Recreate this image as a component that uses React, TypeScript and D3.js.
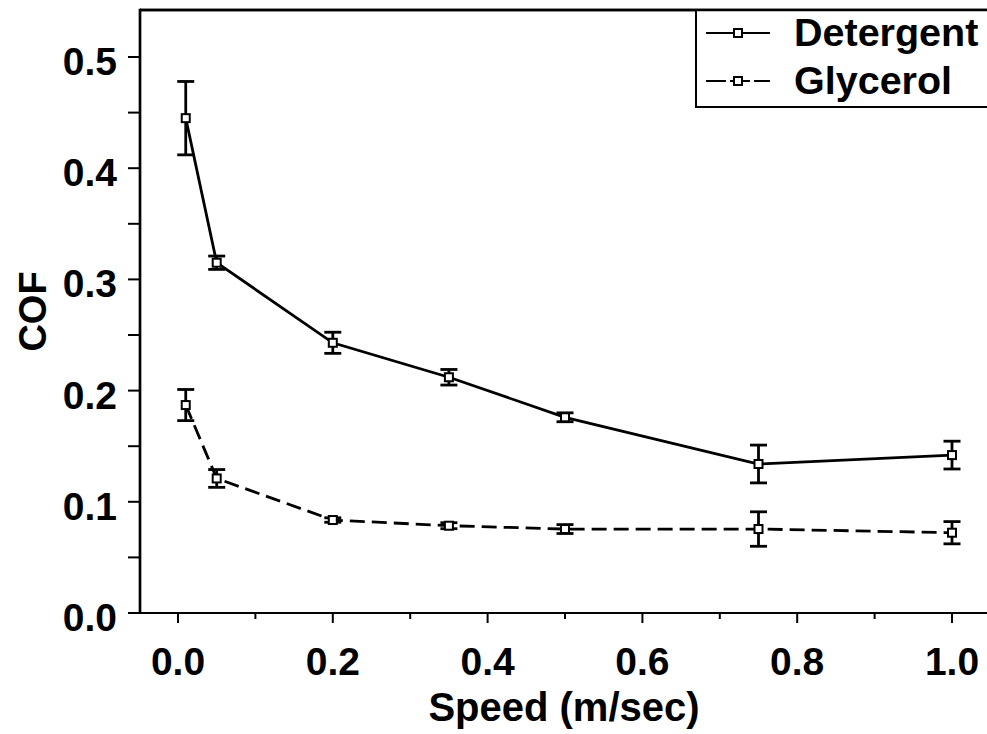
import React from "react";
import * as d3 from "d3";

const speeds = [0.01, 0.05, 0.2, 0.35, 0.5, 0.75, 1.0];
const detergent = [0.445, 0.315, 0.243, 0.212, 0.176, 0.134, 0.142];
const detergentErr = [0.033, 0.006, 0.0095, 0.007, 0.004, 0.017, 0.0125];
const glycerol = [0.187, 0.121, 0.0836, 0.0785, 0.0755, 0.0755, 0.0722];
const glycerolErr = [0.014, 0.008, 0.002, 0.0027, 0.004, 0.0155, 0.01];
const xMajorTicks = [0, 0.2, 0.4, 0.6, 0.8, 1.0];
const xMinorTicks = [0.1, 0.3, 0.5, 0.7, 0.9];
const yTicks = [0, 0.1, 0.2, 0.3, 0.4, 0.5];
const yMinorTicks = [0.05, 0.15, 0.25, 0.35, 0.45];
const seriesNames = ["Detergent", "Glycerol"];

const W = 987;
const H = 734;
const left = 140;
const top = 10;
const bottom = 613;
const FONT = "'Liberation Sans', Arial, sans-serif";

export default function App() {
  const x = d3.scaleLinear().domain([-0.05, 1.05]).range([139.3, 990.7]);
  const y = d3.scaleLinear().domain([0, 0.5]).range([bottom, 57]);

  const line = d3
    .line<number>()
    .x((_, i) => x(speeds[i]))
    .y((d) => y(d));

  const series = [
    { name: seriesNames[0], vals: detergent, err: detergentErr, dash: undefined as string | undefined, ldash: undefined as string | undefined },
    { name: seriesNames[1], vals: glycerol, err: glycerolErr, dash: "15,7", ldash: "20,4" },
  ];

  const ms = 8;
  const cap = 8.5;
  const sw = 2.8;

  return (
    <svg
      width={W}
      height={H}
      style={{ position: "absolute", left: 0, top: 0, background: "#fff" }}
      fontFamily={FONT}
    >
      <rect x={0} y={0} width={W} height={H} fill="#fff" />
      {/* frame */}
      <line x1={left} x2={W} y1={top} y2={top} stroke="#000" strokeWidth={2.7} />
      <line x1={left} x2={left} y1={top - 1.3} y2={bottom} stroke="#000" strokeWidth={2.7} />
      <line x1={left} x2={W} y1={bottom} y2={bottom} stroke="#000" strokeWidth={2} />

      {/* y ticks */}
      {yTicks.concat(yMinorTicks).map((t) => (
        <line key={"yt" + t} x1={128} x2={left} y1={y(t)} y2={y(t)} stroke="#000" strokeWidth={2} />
      ))}
      {yTicks.map((t) => (
        <text
          key={"yl" + t}
          x={117}
          y={y(t) + 18}
          textAnchor="end"
          fontSize={39}
          fontWeight="bold"
        >
          {t.toFixed(1)}
        </text>
      ))}

      {/* x ticks */}
      {xMajorTicks.map((t) => (
        <line key={"xt" + t} x1={x(t)} x2={x(t)} y1={bottom} y2={bottom + 10} stroke="#000" strokeWidth={2} />
      ))}
      {xMinorTicks.map((t) => (
        <line key={"xm" + t} x1={x(t)} x2={x(t)} y1={bottom} y2={bottom + 6} stroke="#000" strokeWidth={2} />
      ))}
      {xMajorTicks.map((t) => (
        <text key={"xl" + t} x={x(t)} y={675} textAnchor="middle" fontSize={39} fontWeight="bold">
          {t.toFixed(1)}
        </text>
      ))}

      {/* axis titles */}
      <text x={564} y={721} textAnchor="middle" fontSize={40} fontWeight="bold">
        Speed (m/sec)
      </text>
      <text
        transform={`translate(45.5, ${(top + bottom) / 2}) rotate(-90)`}
        textAnchor="middle"
        fontSize={38}
        fontWeight="bold"
      >
        COF
      </text>

      {/* series */}
      {series.map((s) => (
        <g key={s.name}>
          <path
            d={line(s.vals) || ""}
            fill="none"
            stroke="#000"
            strokeWidth={sw}
            strokeDasharray={s.dash}
          />
          {s.vals.map((v, i) => {
            const cx = x(speeds[i]);
            const y1 = y(v + s.err[i]);
            const y2 = y(v - s.err[i]);
            return (
              <g key={i}>
                <line x1={cx} x2={cx} y1={y1} y2={y2} stroke="#000" strokeWidth={sw} />
                <line x1={cx - cap} x2={cx + cap} y1={y1} y2={y1} stroke="#000" strokeWidth={sw} />
                <line x1={cx - cap} x2={cx + cap} y1={y2} y2={y2} stroke="#000" strokeWidth={sw} />
                <rect
                  x={cx - ms / 2}
                  y={y(v) - ms / 2}
                  width={ms}
                  height={ms}
                  fill="#fff"
                  stroke="#000"
                  strokeWidth={2}
                />
              </g>
            );
          })}
        </g>
      ))}

      {/* legend */}
      <rect x={696} y={top} width={W - 696 + 5} height={97} fill="#fff" stroke="#000" strokeWidth={2} />
      <line x1={left} x2={W} y1={top} y2={top} stroke="#000" strokeWidth={2.7} />
      {series.map((s, i) => {
        const ly = 33 + i * 48;
        return (
          <g key={"lg" + s.name}>
            <line
              x1={706}
              x2={770}
              y1={ly}
              y2={ly}
              stroke="#000"
              strokeWidth={2}
              strokeDasharray={s.ldash}
            />
            <rect x={738 - ms / 2} y={ly - ms / 2} width={ms} height={ms} fill="#fff" stroke="#000" strokeWidth={2} />
            <text x={794} y={ly + 13} fontSize={39.5} fontWeight="bold">
              {s.name}
            </text>
          </g>
        );
      })}
    </svg>
  );
}
